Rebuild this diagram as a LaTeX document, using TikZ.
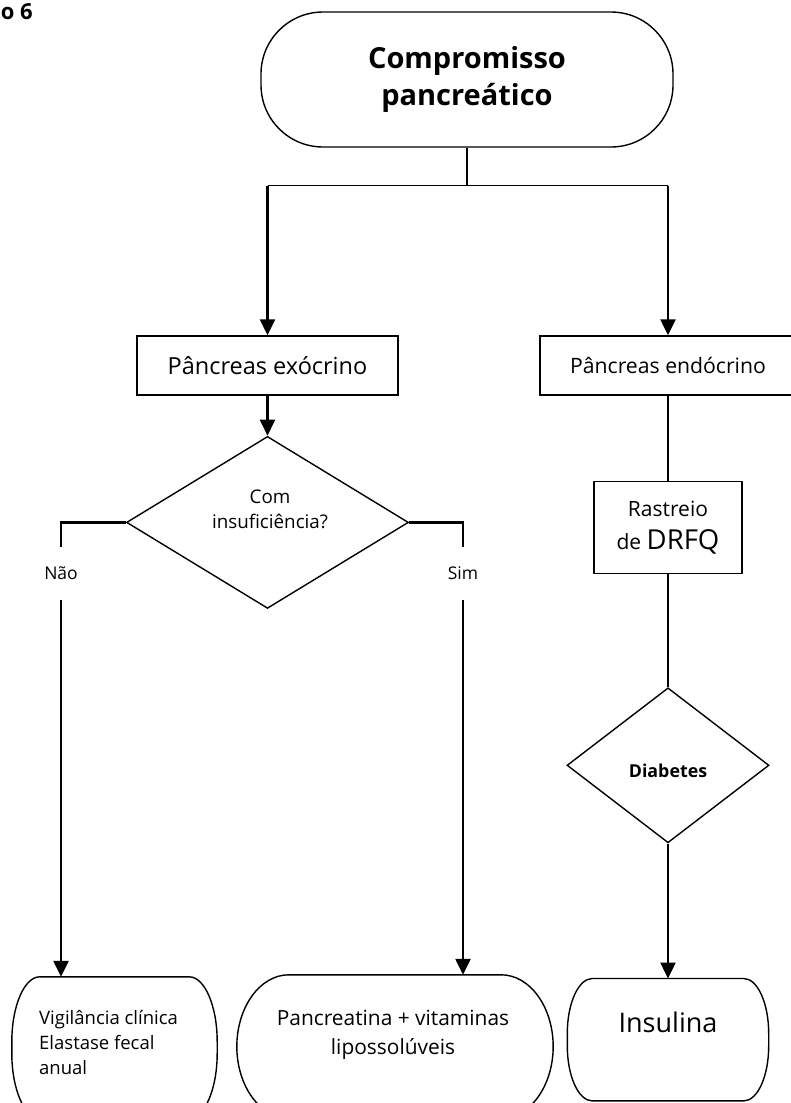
\documentclass[tikz,border=0pt]{standalone}
\usepackage{fontspec}
\setmainfont{Open Sans}
\usetikzlibrary{positioning,shapes.geometric,arrows.meta}
\tikzset{  shp/.style={draw,line width=1.4pt,inner sep=0pt,align=center},
  pill/.style={shp,rectangle,rounded corners=62pt},
  stepbox/.style={shp,rectangle},
  ask/.style={shp,diamond},
  ovalbox/.style={rectangle,inner sep=0pt},
  txt/.style={inner sep=0pt,align=center},
  conn/.style={line width=2.4pt},
  arr/.style={conn,-{Triangle[length=16pt,width=15pt]}} }
\newcommand{\fs}[2]{\fontsize{#1pt}{#2pt}\selectfont}
\newcommand{\ovalframe}[3]{%
  \draw[line width=1.4pt] ([xshift=#2]#1.north west) -- ([xshift=-#2]#1.north east)
    arc[start angle=90,end angle=0,x radius=#2,y radius=#3] -- ([yshift=#3]#1.south east)
    arc[start angle=0,end angle=-90,x radius=#2,y radius=#3] -- ([xshift=#2]#1.south west)
    arc[start angle=270,end angle=180,x radius=#2,y radius=#3] -- ([yshift=-#3]#1.north west)
    arc[start angle=180,end angle=90,x radius=#2,y radius=#3] -- cycle;}

\begin{document}
\begin{tikzpicture}[x=1pt,y=1pt]
   \useasboundingbox (0,0) rectangle (791,-1103);
   \node[anchor=base east,inner sep=0pt,font=\bfseries\fs{22}{26}] (title) at (33,-19) {o 6};
   \node[pill,minimum width=412pt,minimum height=135pt,font=\bfseries\fs{29}{37}] (top) at (467,-79.5) {Compromisso\\pancreático};
   \node[stepbox,minimum width=261pt,minimum height=59pt,font=\fs{23.5}{28}] (exo) at (267.5,-365.5) {Pâncreas exócrino};
   \node[stepbox,minimum width=256pt,minimum height=59pt,font=\fs{21.2}{26}] (endo) at (668,-365.5) {Pâncreas endócrino};
   \node[ask,minimum width=282pt,minimum height=172pt,below=40pt of exo] (quest) {};
   \node[txt,font=\fs{18.8}{25}] (questtxt) at (270,-509) {Com\\insuficiência?};
   \node[txt,minimum height=53pt,font=\fs{17.5}{21}] (nao) at (61,-573.5) {Não};
   \node[txt,minimum height=53pt,font=\fs{17.5}{21}] (sim) at (463,-573.5) {Sim};
   \node[stepbox,minimum width=148pt,minimum height=92pt,below=85pt of endo,font=\fs{21}{33}] (rast) {Rastreio\\de {\fs{27.5}{33}DRFQ}};
   \node[ask,minimum width=202pt,minimum height=155pt,below=113pt of rast] (diab) {};
   \node[txt,font=\bfseries\fs{17.8}{20},yshift=-6pt] (diabtxt) at (diab) {Diabetes};
   \node[ovalbox,minimum width=205pt,minimum height=141pt] (vig) at (114.5,-1047.5) {};
   \node[txt,align=left,anchor=west,font=\fs{18.5}{25}] (vigtxt) at (39,-1042) {Vigilância clínica\\Elastase fecal\\anual};
   \node[ovalbox,minimum width=316pt,minimum height=143pt] (panc) at (395,-1046.5) {};
   \node[txt,font=\fs{20.9}{29}] (panctxt) at (393,-1034.5) {Pancreatina + vitaminas\\lipossolúveis};
   \node[ovalbox,minimum width=201pt,minimum height=122pt,below=135pt of diab] (ins) {};
   \node[txt,font=\fs{27}{32},yshift=17pt] (instxt) at (ins) {Insulina};
   \ovalframe{vig}{28pt}{65pt}
   \ovalframe{panc}{52pt}{72pt}
   \ovalframe{ins}{25pt}{55pt}
   \draw[line width=1.4pt] (top.south) -- ++(0,-38) coordinate (split);
   \draw[line width=1.4pt] (split -| exo.north) -- (split -| endo.north);
   \draw[arr] (split -| exo.north) -- (exo.north);
   \draw[arr] (split -| endo.north) -- (endo.north);
   \draw[arr] (exo) -- (quest);
   \draw[conn] (quest.west) -| (nao.north);
   \draw[arr] (nao.south) -- (nao.south |- vig.north);
   \draw[conn] (quest.east) -| (sim.north);
   \draw[arr] (sim.south) -- (sim.south |- panc.north);
   \draw[conn] (endo) -- (rast);
   \draw[conn] (rast) -- (diab);
   \draw[arr] (diab) -- (ins);
\end{tikzpicture}
\end{document}
